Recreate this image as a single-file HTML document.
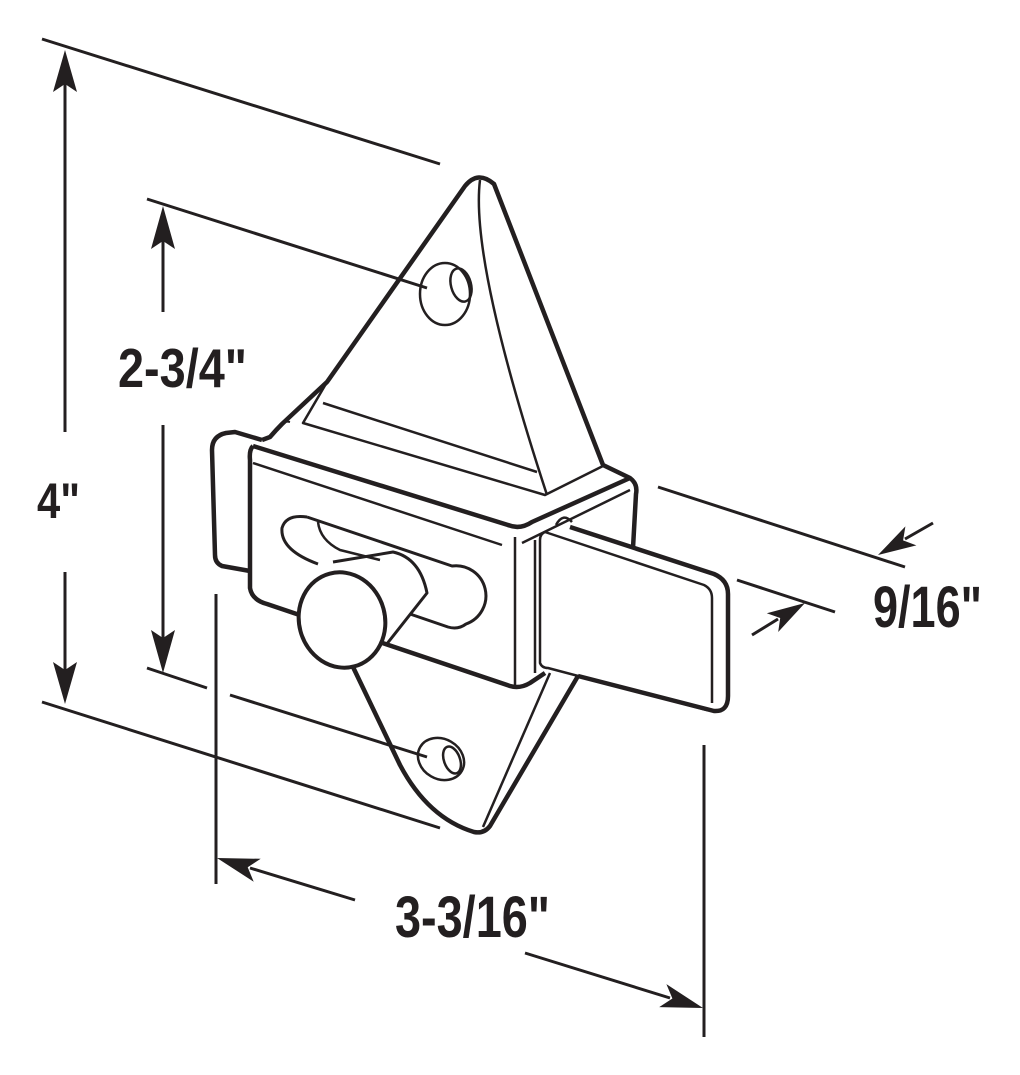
<!DOCTYPE html>
<html><head><meta charset="utf-8"><style>
html,body{margin:0;padding:0;background:#fff;}
svg{display:block;}
text{font-family:"Liberation Sans Narrow","Liberation Sans",sans-serif;font-weight:bold;fill:#231f20;}
</style></head><body>
<svg width="1020" height="1075" viewBox="0 0 1020 1075" xmlns="http://www.w3.org/2000/svg">
<g stroke="#231f20" fill="none" stroke-linecap="butt" stroke-linejoin="round">
<!-- dimension / extension lines -->
<g stroke-width="3">
<line x1="42" y1="39" x2="440" y2="164"/>
<line x1="42" y1="702" x2="440" y2="828"/>
<line x1="65" y1="80" x2="65" y2="432"/>
<line x1="65" y1="572" x2="65" y2="675"/>
<line x1="147" y1="199" x2="427" y2="288"/>
<line x1="147" y1="668" x2="207" y2="688"/>
<line x1="230" y1="695" x2="427" y2="757"/>
<line x1="163" y1="235" x2="163" y2="312"/>
<line x1="163" y1="425" x2="163" y2="645"/>
<line x1="216" y1="594" x2="216" y2="884"/>
<line x1="704" y1="745" x2="704" y2="1037"/>
<line x1="250" y1="868" x2="355" y2="900"/>
<line x1="525" y1="953" x2="670" y2="998"/>
<line x1="658" y1="487" x2="905" y2="567"/>
<line x1="737" y1="580" x2="835" y2="612"/>
<line x1="933" y1="523" x2="905" y2="539"/>
<line x1="752" y1="635" x2="778" y2="619"/>
</g>
<!-- arrowheads -->
<g fill="#231f20" stroke="none">
<polygon points="65,50 77,92 65,84 53,92"/>
<polygon points="65,704 77,662 65,670 53,662"/>
<polygon points="163,206 175,249 163,241 151,249"/>
<polygon points="163,673 175,630 163,638 151,630"/>
<polygon points="217,858 260.7,858.8 247.7,867.3 253.7,881.8"/>
<polygon points="703,1008 659.2,1007.1 672.4,998.5 666.4,984.1"/>
<polygon points="878,555 916.4,545.4 903.1,540.4 905.4,526.4"/>
<polygon points="805,603 778.2,632 780.2,618 766.8,613.2"/>
</g>

<!-- top plate -->
<path stroke-width="4.5" d="M262,440 L270,437 Q276,430 282,424 L327,382 L465,186 Q478,170 494,184 L603,465 L630,478 Q638,484 636,494 L633,548"/>
<path stroke-width="2.5" d="M327,382 L303,423 L545,495 L605,465"/>
<path stroke-width="2.5" d="M323,403 L537,472"/>
<path stroke-width="2.5" d="M480,180 Q470,260 547,495"/>
<path stroke-width="2" d="M276,430 Q282,420 290,422"/>
<!-- top hole -->
<ellipse cx="445" cy="294" rx="25" ry="31" stroke-width="2.5"/>
<ellipse cx="461" cy="285" rx="10" ry="17" stroke-width="2.5" transform="rotate(-15 461 285)"/>

<!-- back flange -->
<path stroke-width="4.5" d="M250,571 L222,566 Q215,563 215,555 L212,450 Q212,436 226,433 L235,432 L262,440"/>
<!-- front face -->
<path stroke-width="4.5" d="M253,446 L508,525 Q520,530 532,522 L630,478"/>
<path stroke-width="4.5" d="M253,446 Q249,450 250,460 L250,588 Q252,600 267,604 L510,686 Q520,689 530,683 L545,673"/>
<line x1="515" y1="537" x2="515" y2="686" stroke-width="2.5"/>
<line x1="253" y1="463" x2="502" y2="545" stroke-width="2.5"/>
<line x1="522" y1="543" x2="630" y2="490" stroke-width="2.5"/>

<!-- slot -->
<path stroke-width="3" d="M307,517 L452,566 A30,30 0 0 1 466,624 Q458,630 448,627 L410,614 M318,564 Q280,550 282,528 Q286,514 307,517"/>
<path stroke-width="2.5" d="M318,522 Q320,540 340,550 L380,560"/>

<!-- knob stem -->
<path stroke-width="3" d="M333,562 L393,552 Q420,558 427,593 L386,645"/>
<!-- knob -->
<ellipse cx="342" cy="620" rx="43" ry="48" stroke-width="4" transform="rotate(-15 342 620)" fill="#fff"/>
<path stroke-width="2" d="M352,575 Q385,585 385,630"/>

<!-- bolt -->
<path stroke-width="4.5" d="M570,527 L714,574 Q728,580 728,594 L728,696 Q728,712 714,711 L578,676"/>
<path stroke-width="2.5" d="M545,532 L704,585 Q712,589 712,598 L712,703"/>
<path stroke-width="2.5" d="M545,532 Q540,534 540,540 L540,663 Q542,668 548,668 L707,710"/>
<line x1="535" y1="540" x2="535" y2="673" stroke-width="2.5"/>
<path stroke-width="2.5" d="M556,525 Q563,512 572,522"/>

<!-- bottom plate -->
<path stroke-width="4.5" d="M353,667 L400,765 Q428,818 474,832 Q484,834 490,826 L578,676"/>
<path stroke-width="2.5" d="M550,673 L483,827"/>
<ellipse cx="441" cy="759" rx="24" ry="20" stroke-width="2.5" transform="rotate(30 441 759)"/>
<ellipse cx="452" cy="760" rx="8" ry="14" stroke-width="2.5" transform="rotate(-20 452 760)"/>
</g>

<!-- labels -->
<text x="37" y="518" font-size="50" textLength="43" lengthAdjust="spacingAndGlyphs">4"</text>
<text x="118" y="387" font-size="55" textLength="129" lengthAdjust="spacingAndGlyphs">2-3/4"</text>
<text x="395" y="937" font-size="58" textLength="155" lengthAdjust="spacingAndGlyphs">3-3/16"</text>
<text x="873" y="627" font-size="58" textLength="109" lengthAdjust="spacingAndGlyphs">9/16"</text>
</svg>
</body></html>
